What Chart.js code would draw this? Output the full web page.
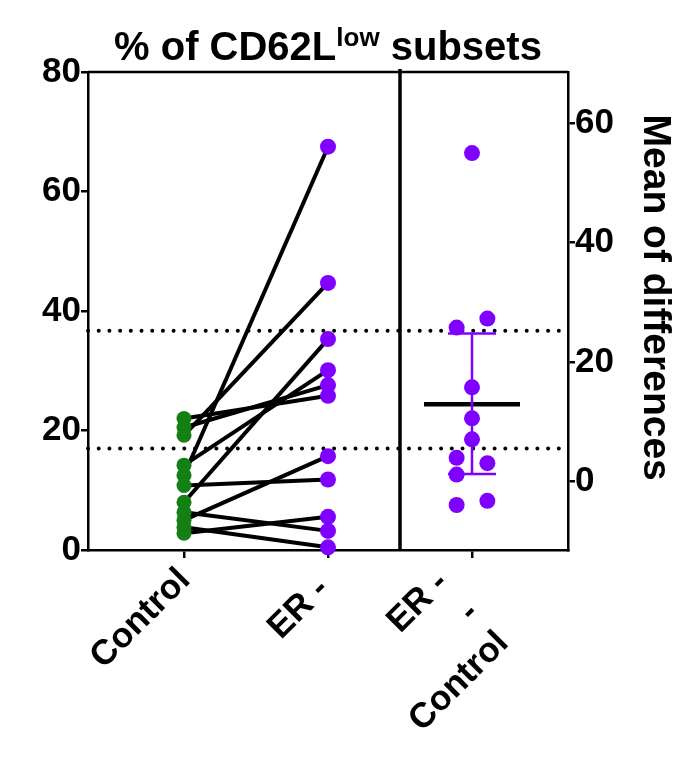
<!DOCTYPE html>
<html>
<head>
<meta charset="utf-8">
<script src="https://cdn.jsdelivr.net/npm/chart.js@4/dist/chart.umd.min.js"></script>
<style>
html, body { margin: 0; padding: 0; background: #fff; }
#wrap { position: relative; width: 697px; height: 771px; }
canvas { position: absolute; left: 0; top: 0; }
#title { position: absolute; left: 88px; width: 480px; top: 21px; text-align: center;
  font: bold 40px 'Liberation Sans', Arial, sans-serif; color: #000; line-height: 50px; white-space: nowrap; }
#title sup { font-size: 26px; line-height: 0; vertical-align: 0.55em; }
</style>
</head>
<body>
<div id="wrap">
  <canvas id="c" width="697" height="771"></canvas>
  <div id="title">% of CD62L<sup>low</sup> subsets</div>
</div>
<script>
// ---- data ----
const categories = ['Control', 'ER -', ['ER -', '-', 'Control']];
// paired values (same index = same subject)
const controlValues = [12.5, 19.2, 8.0, 14.2, 20.5, 22.0, 5.0, 10.8, 2.8, 6.3, 3.8];
const erValues      = [67.5, 44.7, 35.3, 30.1, 27.6, 25.8, 15.7, 11.8, 5.55, 3.2, 0.45];
// differences (ER - Control) as plotted on the right axis
const diffValues    = [55.0, 27.3, 25.8, 15.8, 10.6, 7.1, 4.0, 3.1, 1.2, -3.2, -3.9];
const diffColumn    = [0, 1, -1, 0, 0, 0, -1, 1, -1, 1, -1];
const meanDiff = 12.95;
const ciLow = 1.3;
const ciHigh = 24.8;
const refLines = [17.0, 36.7];
const leftTicks = [0, 20, 40, 60, 80];
const rightTicks = [0, 20, 40, 60];
const rightTitle = 'Mean of differences';

// ---- layout constants ----
const FONT = "'Liberation Sans', Arial, sans-serif";
const X_MIN = 0, X_MAX = 10;
const catPos = [2, 5, 8];
const DIVIDER = 6.5;
const JITTER = 0.32;
const GREEN = 'rgb(20,128,20)';
const PURPLE = 'rgb(128,0,255)';
// label placement along the 45° text direction (u) and across it (v), per line
const labelU = [-17, -27, -40];
const labelV = [[18], [21], [-1, 42, 84]];

const datasets = [];
refLines.forEach(v => datasets.push({
  type: 'line', data: [{x: X_MIN, y: v}, {x: X_MAX, y: v}],
  borderColor: '#000', borderWidth: 4, borderDash: [0, 10.7], borderCapStyle: 'round',
  pointRadius: 0, yAxisID: 'y', clip: false, order: 9
}));
datasets.push({ type: 'line', data: [{x: X_MIN, y: 80}, {x: X_MAX, y: 80}], borderColor: '#000',
  borderWidth: 2.5, pointRadius: 0, yAxisID: 'y', clip: false, order: 8 });
datasets.push({ type: 'line', data: [{x: DIVIDER, y: 0}, {x: DIVIDER, y: 80.5}], borderColor: '#000',
  borderWidth: 3.5, pointRadius: 0, yAxisID: 'y', clip: false, order: 8 });
controlValues.forEach((c, i) => datasets.push({
  type: 'line', data: [{x: catPos[0], y: c}, {x: catPos[1], y: erValues[i]}],
  borderColor: '#000', borderWidth: 4, pointRadius: 0, yAxisID: 'y', order: 7
}));
datasets.push({ type: 'line', data: [{x: catPos[2] - 1, y: meanDiff}, {x: catPos[2] + 1, y: meanDiff}],
  borderColor: '#000', borderWidth: 4.5, pointRadius: 0, yAxisID: 'y2', order: 5 });
const ciStyle = { type: 'line', borderColor: PURPLE, borderWidth: 2.5, pointRadius: 0, yAxisID: 'y2', order: 4 };
datasets.push(Object.assign({ data: [{x: catPos[2], y: ciLow}, {x: catPos[2], y: ciHigh}] }, ciStyle));
datasets.push(Object.assign({ data: [{x: catPos[2] - 0.5, y: ciLow}, {x: catPos[2] + 0.5, y: ciLow}] }, ciStyle));
datasets.push(Object.assign({ data: [{x: catPos[2] - 0.5, y: ciHigh}, {x: catPos[2] + 0.5, y: ciHigh}] }, ciStyle));
datasets.push({ type: 'line', showLine: false, data: controlValues.map(v => ({x: catPos[0], y: v})),
  pointRadius: 7.5, pointBackgroundColor: GREEN, pointBorderWidth: 0, yAxisID: 'y', order: 1, clip: false });
datasets.push({ type: 'line', showLine: false, data: erValues.map(v => ({x: catPos[1], y: v})),
  pointRadius: 8, pointBackgroundColor: PURPLE, pointBorderWidth: 0, yAxisID: 'y', order: 1, clip: false });
datasets.push({ type: 'line', showLine: false, data: diffValues.map((v, i) => ({x: catPos[2] + diffColumn[i] * JITTER, y: v})),
  pointRadius: 8, pointBackgroundColor: PURPLE, pointBorderWidth: 0, yAxisID: 'y2', order: 1, clip: false });

const axisGrid = { drawOnChartArea: false, drawTicks: true, tickLength: 7, color: '#000', lineWidth: 2.5 };
const axisBorder = { display: true, color: '#000', width: 2.5 };
const tickFont = { family: FONT, size: 35, weight: 'bold' };

// draws the rotated category labels and the right axis title
const textPlugin = {
  id: 'texts',
  afterDraw(chart) {
    const ctx = chart.ctx;
    const xs = chart.scales.x;
    ctx.save();
    ctx.fillStyle = '#000';
    ctx.font = 'bold 35px ' + FONT;
    ctx.textAlign = 'right';
    ctx.textBaseline = 'middle';
    categories.forEach((lab, i) => {
      const lines = Array.isArray(lab) ? lab : [lab];
      const px = xs.getPixelForValue(catPos[i]);
      const py = xs.top;
      lines.forEach((t, k) => {
        const du = labelU[i], dv = labelV[i][k];
        const x = px + (du + dv) / Math.SQRT2;
        const y = py + (dv - du) / Math.SQRT2;
        ctx.save();
        ctx.translate(x, y);
        ctx.rotate(-Math.PI / 4);
        ctx.fillText(t, 0, 0);
        ctx.restore();
      });
    });
    const y2 = chart.scales.y2;
    ctx.font = 'bold 39px ' + FONT;
    ctx.textAlign = 'center';
    ctx.translate(y2.right - 42, y2.getPixelForValue(30.8));
    ctx.rotate(Math.PI / 2);
    ctx.fillText(rightTitle, 0, 0);
    ctx.restore();
  }
};

new Chart(document.getElementById('c'), {
  data: { datasets },
  plugins: [textPlugin],
  options: {
    responsive: false, animation: false, devicePixelRatio: 1,
    layout: { padding: { top: 72, left: 0, right: 0, bottom: 0 } },
    plugins: { legend: { display: false }, tooltip: { enabled: false } },
    scales: {
      x: {
        type: 'linear', position: 'bottom', min: X_MIN, max: X_MAX,
        afterBuildTicks: s => { s.ticks = catPos.map(v => ({ value: v })); },
        ticks: { display: false },
        grid: Object.assign({}, axisGrid, { tickLength: 8 }), border: axisBorder,
        afterFit: s => { s.height = 221; }
      },
      y: {
        type: 'linear', position: 'left', min: 0, max: 80,
        afterBuildTicks: s => { s.ticks = leftTicks.map(v => ({ value: v })); },
        ticks: { color: '#000', padding: 0, font: tickFont },
        grid: axisGrid, border: axisBorder,
        afterFit: s => { s.width = 88; }
      },
      y2: {
        type: 'linear', position: 'right', min: -11.43, max: 68.57,
        afterBuildTicks: s => { s.ticks = rightTicks.map(v => ({ value: v })); },
        ticks: { color: '#000', padding: 0, font: tickFont },
        grid: axisGrid, border: axisBorder,
        afterFit: s => { s.width = 129; }
      }
    }
  }
});
</script>
</body>
</html>
